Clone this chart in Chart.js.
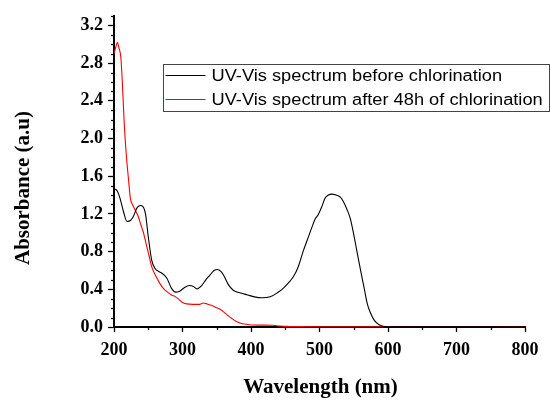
<!DOCTYPE html>
<html>
<head>
<meta charset="utf-8">
<script src="https://cdn.jsdelivr.net/npm/chart.js@4/dist/chart.umd.min.js"></script>
<style>
  html, body { margin: 0; padding: 0; background: #fff; }
  #wrap { width: 551px; height: 400px; position: relative; }
</style>
</head>
<body>
<div id="wrap"><canvas id="c" width="551" height="400"></canvas></div>
<script>
// Series labels
const seriesLabels = [
  'UV-Vis spectrum before chlorination',
  'UV-Vis spectrum after 48h of chlorination'
];
const xTitle = 'Wavelength (nm)';
const yTitle = 'Absorbance (a.u)';

// Before chlorination (black)
const beforeWavelength = [200, 202, 205, 209, 214, 219, 224, 228, 234, 239, 243, 246, 250, 255, 260, 265, 270, 277, 284, 290, 296, 303, 310, 316, 321, 328, 334, 340, 346, 351, 356, 360, 367, 374, 385, 395, 405, 416, 428, 438, 447, 455, 462, 469, 476, 482, 489, 494, 498, 503, 508, 513, 518, 524, 530, 535, 540, 545, 550, 555, 560, 565, 570, 575, 580, 586, 593, 600, 650, 700, 750, 800];
const beforeAbs = [1.46, 1.46, 1.44, 1.36, 1.22, 1.12, 1.13, 1.17, 1.27, 1.29, 1.27, 1.20, 0.96, 0.71, 0.62, 0.59, 0.57, 0.52, 0.41, 0.37, 0.38, 0.42, 0.44, 0.43, 0.405, 0.44, 0.50, 0.55, 0.60, 0.61, 0.59, 0.55, 0.45, 0.39, 0.36, 0.34, 0.32, 0.31, 0.32, 0.36, 0.41, 0.47, 0.535, 0.64, 0.80, 0.92, 1.06, 1.15, 1.19, 1.27, 1.365, 1.40, 1.41, 1.40, 1.38, 1.33, 1.25, 1.15, 0.98, 0.79, 0.60, 0.42, 0.24, 0.14, 0.07, 0.03, 0.008, 0.003, 0.002, 0.002, 0.001, 0.0];

// After 48h of chlorination (red)
const afterWavelength = [200, 203, 205, 207, 210, 212, 215, 218, 221, 224, 227, 231, 235, 239, 243, 247, 251, 255, 259, 264, 268, 272, 278, 284, 290, 295, 300, 306, 315, 325, 330, 336, 342, 348, 354, 360, 366, 372, 378, 385, 392, 400, 415, 432, 442, 455, 470, 500, 600, 700, 800];
const afterAbs = [2.90, 2.98, 3.02, 2.97, 2.86, 2.62, 2.15, 1.82, 1.58, 1.36, 1.30, 1.24, 1.18, 1.09, 1.00, 0.88, 0.76, 0.64, 0.57, 0.50, 0.45, 0.41, 0.37, 0.34, 0.32, 0.29, 0.26, 0.245, 0.24, 0.24, 0.255, 0.245, 0.23, 0.21, 0.19, 0.16, 0.125, 0.09, 0.06, 0.04, 0.03, 0.022, 0.02, 0.018, 0.01, 0.006, 0.004, 0.002, 0.001, 0.0, 0.0];

// Axis settings
const xMin = 200, xMax = 800, xStep = 50, xLabelEvery = 100;
const yMin = 0, yMax = 3.3, yStep = 0.1, yLabelEvery = 0.4;

const toPts = (xs, ys) => xs.map((x, i) => ({ x: x, y: ys[i] }));

const serifFamily = '"Liberation Serif", "Times New Roman", serif';
const serifBold = { family: serifFamily, weight: 'bold', size: 18 };

function isYMajor(v) { return Math.round(v * 10) % Math.round(yLabelEvery * 10) === 0; }
function isXMajor(v) { return Math.round(v) % xLabelEvery === 0; }

// Minor ticks, axis titles and boxed legend
const extras = {
  id: 'extras',
  afterDraw(chart) {
    const ctx = chart.ctx;
    const xs = chart.scales.x, ys = chart.scales.y;
    ctx.save();
    ctx.strokeStyle = '#000';
    ctx.lineWidth = 1.3;
    ys.ticks.forEach(t => {
      if (!isYMajor(t.value)) {
        const py = Math.round(ys.getPixelForValue(t.value)) + 0.5;
        ctx.beginPath();
        ctx.moveTo(ys.right - 3, py);
        ctx.lineTo(ys.right, py);
        ctx.stroke();
      }
    });
    xs.ticks.forEach(t => {
      if (!isXMajor(t.value)) {
        const px = Math.round(xs.getPixelForValue(t.value)) + 0.5;
        ctx.beginPath();
        ctx.moveTo(px, xs.top);
        ctx.lineTo(px, xs.top + 3);
        ctx.stroke();
      }
    });

    ctx.font = 'bold 21px ' + serifFamily;
    ctx.fillStyle = '#000';
    ctx.textAlign = 'center';

    // x-axis title
    ctx.textBaseline = 'alphabetic';
    ctx.fillText(xTitle, (xs.left + xs.right) / 2 + 1, 393);

    // y-axis title
    ctx.save();
    ctx.translate(24, 188);
    ctx.rotate(-Math.PI / 2);
    ctx.textBaseline = 'middle';
    ctx.fillText(yTitle, 0, 0);
    ctx.restore();

    // legend box
    const bx = 163.5, by = 64.5, bw = 386, bh = 47;
    ctx.fillStyle = '#fff';
    ctx.fillRect(bx, by, bw, bh);
    ctx.strokeStyle = '#444';
    ctx.lineWidth = 1;
    ctx.strokeRect(bx, by, bw, bh);
    chart.data.datasets.forEach((ds, i) => {
      const ly = by + 11 + i * 24;
      ctx.strokeStyle = ds.borderColor;
      ctx.lineWidth = 1.2;
      ctx.beginPath();
      ctx.moveTo(bx + 2, ly);
      ctx.lineTo(bx + 42, ly);
      ctx.stroke();
      ctx.save();
      ctx.translate(bx + 48, ly + 1);
      ctx.scale(1.14, 1);
      ctx.font = '16px "Liberation Sans", Arial, sans-serif';
      ctx.textBaseline = 'middle';
      ctx.textAlign = 'left';
      ctx.fillStyle = '#000';
      ctx.fillText(ds.label, 0, 0);
      ctx.restore();
    });
    ctx.restore();
  }
};

new Chart(document.getElementById('c'), {
  type: 'line',
  data: {
    datasets: [
      {
        label: seriesLabels[0],
        data: toPts(beforeWavelength, beforeAbs),
        borderColor: '#000000',
        borderWidth: 1.1,
        pointRadius: 0,
        cubicInterpolationMode: 'monotone',
        fill: false
      },
      {
        label: seriesLabels[1],
        data: toPts(afterWavelength, afterAbs),
        borderColor: '#ff0000',
        borderWidth: 1.1,
        pointRadius: 0,
        cubicInterpolationMode: 'monotone',
        fill: false
      }
    ]
  },
  options: {
    responsive: false,
    animation: false,
    devicePixelRatio: 1,
    layout: { padding: { top: 16, right: 26, left: 0, bottom: 0 } },
    plugins: {
      legend: { display: false },
      tooltip: { enabled: false }
    },
    scales: {
      x: {
        type: 'linear',
        min: xMin, max: xMax,
        afterFit(s) { s.height = 73; },
        border: { display: true, color: '#000', width: 2 },
        grid: {
          drawOnChartArea: false,
          drawTicks: true,
          tickLength: 5,
          tickWidth: 1.3,
          tickColor: (c) => (c.tick && isXMajor(c.tick.value)) ? '#000' : 'rgba(0,0,0,0)'
        },
        ticks: {
          stepSize: xStep,
          autoSkip: false,
          maxRotation: 0,
          padding: 8,
          color: '#000',
          font: serifBold,
          callback: (v) => isXMajor(v) ? String(Math.round(v)) : ''
        },
        title: { display: false }
      },
      y: {
        type: 'linear',
        min: yMin, max: yMax,
        afterFit(s) { s.width = 114; },
        border: { display: true, color: '#000', width: 2 },
        grid: {
          drawOnChartArea: false,
          drawTicks: true,
          tickLength: 6,
          tickWidth: 1.3,
          tickColor: (c) => (c.tick && isYMajor(c.tick.value)) ? '#000' : 'rgba(0,0,0,0)'
        },
        ticks: {
          stepSize: yStep,
          autoSkip: false,
          padding: 5,
          color: '#000',
          font: serifBold,
          callback: (v) => isYMajor(v) ? (Math.round(v * 10) / 10).toFixed(1) : ''
        },
        title: { display: false }
      }
    }
  },
  plugins: [extras]
});
</script>
</body>
</html>
